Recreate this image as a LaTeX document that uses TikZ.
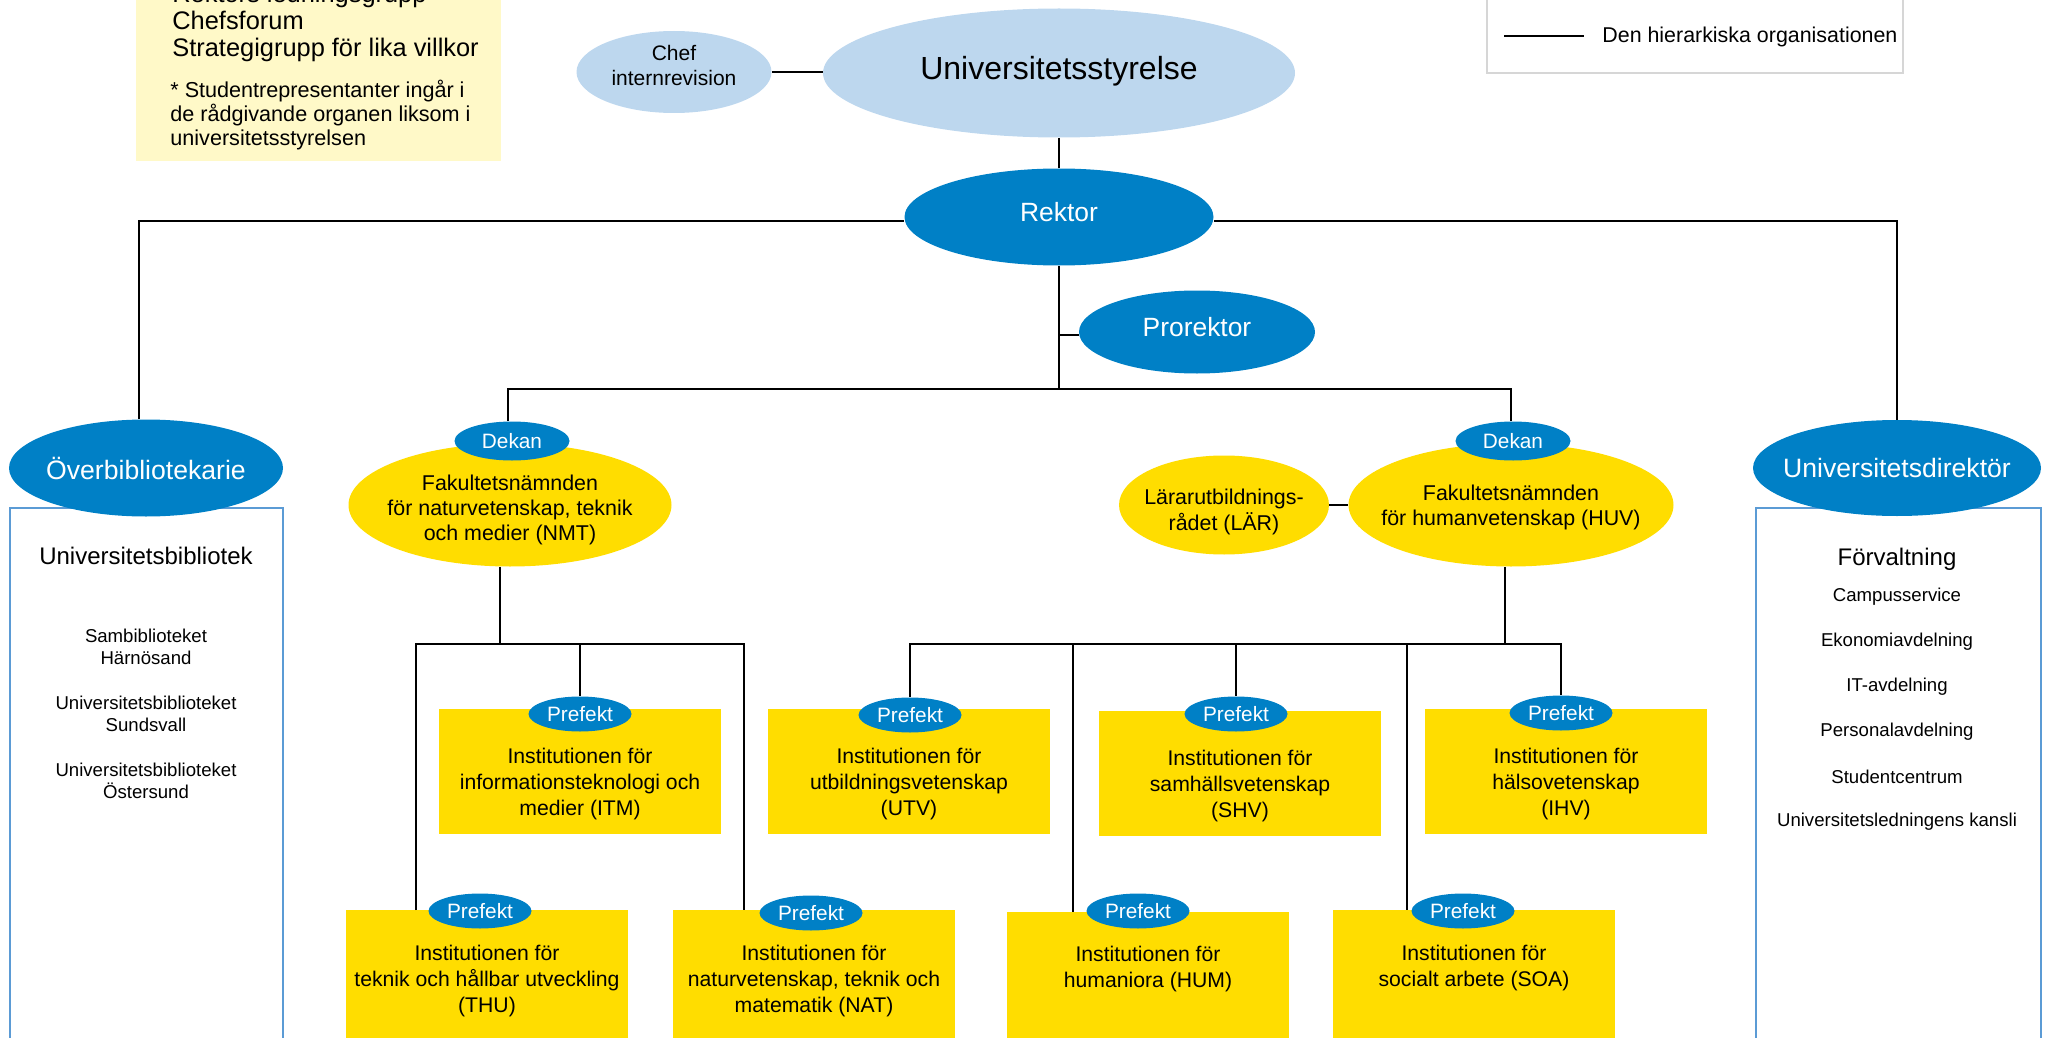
\documentclass[tikz,border=0pt]{standalone}
\usepackage{fontspec}
\setmainfont{Liberation Sans}
\usetikzlibrary{shapes.geometric}
\definecolor{miunblue}{HTML}{0080C6}
\definecolor{miunpale}{HTML}{BDD7EE}
\definecolor{miunyellow}{HTML}{FFDD00}
\definecolor{notecream}{HTML}{FFF9C8}
\definecolor{frameblue}{HTML}{5B9BD5}
\definecolor{legendgray}{HTML}{D6D6D6}
\tikzset{
  ell/.style={ellipse, inner xsep=-8pt, inner ysep=0pt, align=center},
  blueell/.style={ell, fill=miunblue, text=white},
  paleell/.style={ell, fill=miunpale},
  yellell/.style={ell, fill=miunyellow},
  elltext/.style={inner sep=0pt, align=center, font=\fontsize{10.7}{12.5}\selectfont},
  chip/.style={blueell, minimum width=51.5pt, minimum height=17.5pt, font=\fontsize{10.4}{12}\selectfont},
  instbox/.style={rectangle, fill=miunyellow, minimum width=141pt, inner sep=0pt, anchor=north},
  insttext/.style={anchor=north, inner sep=0pt, align=center, font=\fontsize{10.6}{13}\selectfont},
  listbox/.style={draw=frameblue, line width=0.7pt},
  hier/.style={line width=1.3pt}
}

\begin{document}
\begin{tikzpicture}[x=0.5pt, y=-0.5pt]
\useasboundingbox (0,0) rectangle (2047,1038);
\clip (0,0) rectangle (2047,1038);

\fill[notecream] (136,-10) rectangle (501,161);
\foreach \t [count=\i from 0] in {Rektors ledningsgrupp,Chefsforum,Strategigrupp för lika villkor}
  \node[anchor=base west, inner sep=0pt, font=\fontsize{12.7}{13.7}\selectfont] (note\i) at (172,3+27*\i) {\t};
\node[anchor=north west, inner sep=0pt, align=left, font=\fontsize{10.8}{12}\selectfont] (studnote) at (170,80)
  {* Studentrepresentanter ingår i\\de rådgivande organen liksom i\\universitetsstyrelsen};

\draw[draw=legendgray, line width=0.6pt] (1487,-10) rectangle (1903,73);
\coordinate (lgA) at (1504,36);
\coordinate (lgB) at (1584,36);
\draw[hier] (lgA) -- (lgB);
\node[anchor=west, inner sep=0pt, font=\fontsize{10.7}{12}\selectfont] (lgtxt) at (1602,37) {Den hierarkiska organisationen};

\draw[listbox] (10,508) rectangle (283,1045);
\draw[listbox] (1756,508) rectangle (2041,1045);
\node[font=\fontsize{12}{14}\selectfont] (ubib) at (146,556) {Universitetsbibliotek};
\foreach \t [count=\i from 0] in {Sambiblioteket\\Härnösand,Universitetsbiblioteket\\Sundsvall,Universitetsbiblioteket\\Östersund}
  \node[align=center, font=\fontsize{9.3}{11}\selectfont] (bib\i) at (146,647+67*\i) {\t};
\node[font=\fontsize{12}{14}\selectfont] (forv) at (1897,559) {Förvaltning};
\foreach \t [count=\i from 0] in {Campusservice,Ekonomiavdelning,IT-avdelning,Personalavdelning,Studentcentrum,Universitetsledningens kansli}
  \node[font=\fontsize{9.3}{11}\selectfont] (forv\i) at (1897,597+45*\i) {\t};

\node[paleell, minimum width=97.5pt, minimum height=41pt] (chef) at (674,72) {};
\node[elltext, font=\fontsize{10.5}{12.5}\selectfont] (cheftxt) at ([yshift=3.3pt]chef.center) {Chef\\internrevision};
\node[paleell, minimum width=236pt, minimum height=64.5pt, text depth=5pt, font=\fontsize{16}{18}\selectfont] (styrelse) at (1059,73) {Universitetsstyrelse};
\node[blueell, minimum width=154.5pt, minimum height=48.5pt, text depth=5pt, font=\fontsize{13.2}{15}\selectfont] (rektor) at (1059,217) {Rektor};
\node[blueell, minimum width=118pt, minimum height=41.5pt, text depth=5pt, font=\fontsize{13.2}{15}\selectfont] (prorektor) at (1197,332) {Prorektor};
\node[blueell, minimum width=137pt, minimum height=48.5pt, font=\fontsize{13.3}{15}\selectfont] (obib) at (146,468) {Överbibliotekarie};
\node[blueell, minimum width=144pt, minimum height=48pt, font=\fontsize{13.3}{15}\selectfont] (udir) at (1897,468) {Universitetsdirektör};

\node[yellell, minimum width=161.5pt, minimum height=61.5pt] (nmt) at (510,505) {};
\node[elltext] (nmttxt) at ([yshift=-2.6pt]nmt.center) {Fakultetsnämnden\\för naturvetenskap, teknik\\och medier (NMT)};
\node[yellell, minimum width=162.5pt, minimum height=61.5pt] (huv) at (1511,505) {};
\node[elltext] (huvtxt) at ([yshift=-1pt]huv.center) {Fakultetsnämnden\\för humanvetenskap (HUV)};
\node[yellell, minimum width=105pt, minimum height=49.5pt] (lar) at (1224,505) {};
\node[elltext, font=\fontsize{10.7}{13}\selectfont] (lartxt) at ([yshift=-3.6pt]lar.center) {Lärarutbildnings-\\rådet (LÄR)};
\node[chip, minimum width=57.5pt, minimum height=19.5pt] (dnmt) at (512,441) {Dekan};
\node[chip, minimum width=57.5pt, minimum height=19.5pt] (dhuv) at (1513,441) {Dekan};

\foreach \n/\x/\y/\h/\d/\px/\py/\t in {
  itm/580/709/62.5/19.5/580/714/{Institutionen för\\informationsteknologi och\\medier (ITM)},
  utv/909/709/62.5/19.5/910/715/{Institutionen för\\utbildningsvetenskap\\(UTV)},
  shv/1240/711/62.5/19.5/1236/714/{Institutionen för\\samhällsvetenskap\\(SHV)},
  ihv/1566/709/62.5/19.5/1561/713/{Institutionen för\\hälsovetenskap\\(IHV)},
  thu/487/910/66/17.5/480/911/{Institutionen för\\teknik och hållbar utveckling\\(THU)},
  nat/814/910/66/17.5/811/913/{Institutionen för\\naturvetenskap, teknik och\\matematik (NAT)},
  hum/1148/912/66/17/1138/911/{Institutionen för\\humaniora (HUM)},
  soa/1474/910/66/17.5/1463/911/{Institutionen för\\socialt arbete (SOA)}}{
  \node[instbox, minimum height=\h pt] (\n) at (\x,\y) {};
  \node[insttext] (txt\n) at ([yshift=-\d pt]\n.north) {\t};
  \node[chip] (p\n) at (\px,\py) {Prefekt};
}

\draw[hier] (chef.east) -- (chef.east -| styrelse.west);
\draw[hier] (styrelse.south) -- (rektor.north);
\draw[hier] ([xshift=-3.5pt]obib.north) |- ([yshift=-2pt]rektor.west);
\draw[hier] ([yshift=-2pt]rektor.east) -| (udir.north);
\coordinate (fakbus) at (1059,389);
\draw[hier] (rektor.south) -- (fakbus);
\draw[hier] ([yshift=-1.5pt]prorektor.west) -- ([yshift=-1.5pt]prorektor.west -| fakbus);
\draw[hier] ([xshift=-2pt]dnmt.north) |- (fakbus) -| ([xshift=-1pt]dhuv.north);
\draw[hier] (lar.east) -- (huv.west);

\coordinate (nmtL) at (416,644);
\coordinate (nmtM) at (500,644);
\coordinate (nmtR) at (744,644);
\draw[hier] (nmt.south -| nmtM) -- (nmtM);
\draw[hier] (nmtL |- thu.north) -- (nmtL) -- (nmtR) -- (nmtR |- nat.north);
\draw[hier] (pitm.north |- nmtL) -- (pitm.north);

\coordinate (huvL) at (910,644);
\coordinate (huvM) at (1505,644);
\coordinate (huvR) at (1561,644);
\coordinate (humX) at (1073,644);
\coordinate (soaX) at (1407,644);
\draw[hier] (huv.south -| huvM) -- (huvM);
\draw[hier] (putv.north) -- (huvL) -- (huvR) -- (pihv.north);
\draw[hier] (pshv.north |- huvL) -- (pshv.north);
\draw[hier] (humX) -- (humX |- hum.north);
\draw[hier] (soaX) -- (soaX |- soa.north);
\end{tikzpicture}
\end{document}
